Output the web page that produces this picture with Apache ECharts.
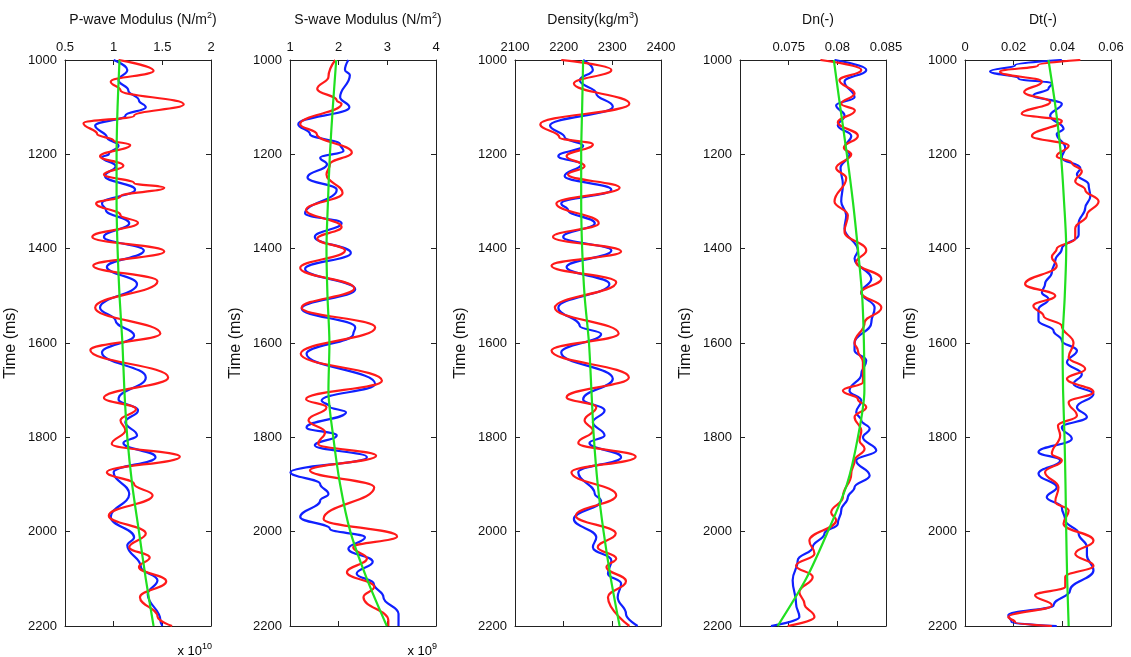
<!DOCTYPE html>
<html>
<head>
<meta charset="utf-8">
<script src="https://cdn.jsdelivr.net/npm/echarts@6/dist/echarts.min.js"></script>
<style>html,body{margin:0;padding:0;background:#fff}#c{width:1131px;height:657px}</style>
</head>
<body>
<div id="c"></div>
<script>
// ---------- DATA (time in ms) ----------
const timeTicks = [1000, 1200, 1400, 1600, 1800, 2000, 2200];

// P-wave modulus (x 1e10)
const pBlueT = [1000,1021,1043,1064,1086,1100,1118,1139,1164,1182,1200,1206,1225,1246,1275,1304,1318,1346,1375,1404,1439,1475,1525,1553,1584,1620,1673,1719,1743,1768,1796,1812,1842,1874,1920,1969,2012,2029,2075,2103,2132,2188,2200];
const pBlueV = [1.00,1.14,1.05,1.15,1.26,1.33,1.12,0.81,0.93,1.05,0.95,0.88,1.02,0.91,1.22,0.88,0.92,1.16,0.90,1.31,0.93,1.24,0.86,1.02,1.21,0.88,1.33,1.05,1.25,1.12,1.24,1.10,1.43,1.00,1.16,0.97,1.21,1.14,1.28,1.45,1.35,1.48,1.50];
const pRedT = [1000,1023,1046,1064,1094,1118,1134,1157,1171,1180,1204,1224,1243,1261,1271,1289,1304,1329,1345,1375,1406,1436,1469,1525,1580,1615,1673,1716,1740,1764,1785,1814,1841,1874,1899,1923,1966,2004,2033,2055,2075,2105,2139,2180,2200];
const pRedV = [1.05,1.41,0.97,1.07,1.72,1.21,0.69,0.83,1.00,1.17,0.86,1.10,0.90,1.21,1.52,1.07,0.82,1.07,1.25,0.78,1.52,0.79,1.45,0.81,1.48,0.76,1.56,0.90,1.23,1.07,1.12,0.98,1.68,0.93,1.21,1.40,0.95,1.33,1.16,1.37,1.26,1.54,1.27,1.45,1.60];
const pGreenT = [1000,1100,1200,1300,1400,1500,1600,1700,1800,1900,2000,2100,2200];
const pGreenV = [1.06,1.04,1.03,1.03,1.04,1.06,1.09,1.11,1.14,1.19,1.26,1.33,1.41];

// S-wave modulus (x 1e9)
const sBlueT = [1000,1021,1032,1079,1100,1136,1157,1179,1193,1207,1221,1249,1275,1325,1346,1375,1409,1443,1486,1527,1567,1581,1623,1687,1722,1735,1747,1779,1796,1817,1842,1874,1899,1920,1934,1969,1994,2012,2036,2064,2089,2110,2139,2174,2200];
const sBlueV = [2.20,2.13,2.23,2.03,2.22,1.17,1.41,2.03,2.10,1.62,1.76,1.36,1.96,1.31,2.06,1.51,2.25,1.31,2.34,1.24,2.34,2.30,1.34,2.75,1.65,1.82,2.15,1.34,1.96,1.51,2.58,1.01,1.62,1.79,1.62,1.21,1.82,2.54,2.20,2.70,2.37,2.72,2.92,3.23,3.23];
const sRedT = [1000,1036,1061,1086,1093,1136,1157,1196,1221,1243,1282,1318,1354,1379,1404,1441,1484,1525,1567,1623,1680,1719,1736,1764,1789,1814,1839,1870,1906,1973,2010,2033,2057,2086,2117,2139,2188,2200];
const sRedV = [1.93,1.79,1.56,1.96,2.06,1.21,1.55,2.27,1.82,1.75,2.08,1.33,2.06,1.56,2.13,1.21,2.32,1.24,2.75,1.22,2.89,1.33,1.75,1.38,1.72,1.58,2.77,1.41,2.73,1.69,3.20,2.30,2.58,2.17,2.73,2.51,3.02,3.02];
const sGreenT = [1000,1100,1200,1300,1400,1500,1600,1700,1800,1900,2000,2100,2200];
const sGreenV = [1.95,1.88,1.82,1.78,1.75,1.77,1.81,1.79,1.89,2.03,2.24,2.58,2.99];

// Density (kg/m3)
const dBlueT = [1000,1021,1043,1071,1099,1139,1164,1182,1204,1221,1246,1275,1304,1318,1346,1375,1404,1439,1475,1525,1564,1581,1620,1676,1719,1743,1768,1796,1812,1842,1874,1920,1934,1973,2012,2033,2061,2089,2110,2139,2174,2200];
const dBlueV = [2240,2260,2233,2267,2301,2172,2202,2240,2189,2236,2202,2298,2195,2209,2264,2199,2298,2206,2294,2189,2233,2277,2195,2301,2240,2284,2260,2284,2253,2318,2230,2264,2277,2221,2267,2260,2298,2291,2318,2311,2328,2352];
const dRedT = [1000,1021,1050,1093,1136,1164,1179,1204,1225,1243,1271,1304,1346,1375,1406,1436,1471,1525,1580,1616,1673,1715,1736,1764,1786,1812,1841,1874,1923,1966,2004,2033,2057,2075,2105,2139,2200];
const dRedV = [2195,2298,2221,2335,2152,2191,2260,2206,2243,2209,2315,2185,2272,2178,2318,2175,2308,2182,2313,2175,2334,2206,2267,2243,2260,2230,2348,2216,2308,2225,2307,2270,2308,2288,2328,2291,2335];
const dGreenT = [1000,1100,1200,1300,1400,1500,1600,1700,1800,1900,2000,2100,2200];
const dGreenV = [2240,2238,2236,2236,2238,2243,2252,2257,2262,2270,2282,2297,2315];

// Dn (-)
const nBlueT = [1000,1021,1046,1079,1096,1118,1139,1161,1186,1200,1229,1264,1300,1329,1357,1404,1421,1464,1493,1525,1557,1600,1616,1637,1666,1701,1722,1747,1764,1782,1800,1828,1849,1881,1906,1927,1955,1983,2004,2033,2061,2103,2153,2181,2200];
const nBlueV = [0.07971,0.08297,0.08074,0.08177,0.07988,0.08074,0.08005,0.08143,0.08074,0.08125,0.08033,0.08057,0.0804,0.08091,0.08074,0.08211,0.08177,0.08349,0.08246,0.08383,0.08349,0.08177,0.08177,0.08297,0.08246,0.08125,0.08246,0.08194,0.08246,0.08332,0.08263,0.084,0.08194,0.08332,0.08177,0.08108,0.0804,0.08005,0.07868,0.07747,0.07593,0.07541,0.07576,0.0761,0.07318];
const nRedT = [1000,1021,1043,1071,1093,1107,1132,1161,1186,1200,1229,1250,1300,1329,1364,1404,1429,1464,1493,1525,1557,1600,1616,1641,1683,1701,1719,1736,1757,1786,1807,1824,1849,1877,1927,1959,1976,2019,2047,2072,2096,2128,2153,2181,2200];
const nRedV = [0.07826,0.08246,0.08022,0.08177,0.0804,0.0818,0.08005,0.08211,0.08067,0.08143,0.07988,0.08091,0.07971,0.08108,0.08074,0.08297,0.08194,0.08452,0.08246,0.08452,0.0828,0.08177,0.08211,0.08263,0.08263,0.08057,0.08211,0.08297,0.08177,0.08246,0.08228,0.0828,0.08177,0.08143,0.08057,0.07936,0.07988,0.07713,0.07765,0.07576,0.07747,0.0761,0.07662,0.07765,0.0749];
const nGreenT = [1000,1100,1200,1300,1400,1500,1600,1700,1800,1900,2000,2100,2200];
const nGreenV = [0.07964,0.0803,0.08098,0.0816,0.08211,0.08255,0.08273,0.08278,0.08211,0.08098,0.07902,0.07679,0.07387];

// Dt (-)
const tBlueT = [1000,1011,1024,1039,1050,1061,1075,1093,1118,1146,1157,1186,1207,1229,1243,1264,1289,1314,1346,1371,1400,1425,1450,1475,1493,1507,1529,1553,1574,1595,1616,1641,1666,1687,1708,1736,1757,1779,1803,1831,1849,1877,1906,1927,1948,1976,2004,2033,2050,2082,2124,2156,2177,2192,2200];
const tBlueV = [0.0398,0.0206,0.0103,0.0220,0.0357,0.0343,0.0281,0.0398,0.0350,0.0405,0.0377,0.0412,0.0398,0.0474,0.0460,0.0508,0.0515,0.0494,0.0467,0.0467,0.0398,0.0371,0.0357,0.0329,0.0316,0.0343,0.0302,0.0302,0.0364,0.0398,0.0460,0.0419,0.0480,0.0446,0.0528,0.0460,0.0501,0.0398,0.0439,0.0302,0.0391,0.0302,0.0377,0.0336,0.0398,0.0412,0.0467,0.0501,0.0501,0.0528,0.0432,0.0364,0.0178,0.0192,0.0377];
const tRedT = [1000,1011,1025,1046,1068,1089,1114,1129,1161,1182,1204,1218,1236,1257,1275,1300,1329,1357,1379,1400,1418,1436,1475,1500,1521,1543,1564,1600,1630,1655,1676,1704,1726,1754,1775,1796,1835,1849,1874,1906,1937,1955,1983,2019,2047,2072,2096,2117,2135,2156,2181,2192,2200];
const tRedV = [0.0474,0.0300,0.0144,0.0316,0.0243,0.0350,0.0233,0.0398,0.0275,0.0426,0.0377,0.0439,0.0480,0.0453,0.0494,0.0549,0.0501,0.0453,0.0453,0.0377,0.0357,0.0377,0.0247,0.0371,0.0281,0.0323,0.0398,0.0446,0.0426,0.0494,0.0419,0.0528,0.0426,0.0460,0.0382,0.0391,0.0357,0.0398,0.0329,0.0384,0.0371,0.0426,0.0405,0.0528,0.0453,0.0528,0.0412,0.0412,0.0288,0.0357,0.0178,0.0206,0.0357];
const tGreenT = [1000,1100,1200,1300,1400,1500,1600,1700,1800,1900,2000,2100,2200];
const tGreenV = [0.0343,0.0372,0.0394,0.0407,0.0416,0.0410,0.0401,0.0403,0.0409,0.0413,0.0416,0.0420,0.0426];

// ---------- CHART ----------
const FONT = "'Liberation Sans', Arial, sans-serif";
const TXT = '#111';
const panels = [
  {title:'{a|P-wave Modulus (N/m}{s|2}{a|)}', min:0.5, max:2, interval:0.5, minLabel:true,
   blue:[pBlueT,pBlueV], red:[pRedT,pRedV], green:[pGreenT,pGreenV], exp:'10'},
  {title:'{a|S-wave Modulus (N/m}{s|2}{a|)}', min:1, max:4, interval:1, minLabel:true,
   blue:[sBlueT,sBlueV], red:[sRedT,sRedV], green:[sGreenT,sGreenV], exp:'9'},
  {title:'{a|Density(kg/m}{s|3}{a|)}', min:2100, max:2400, interval:100, minLabel:true,
   blue:[dBlueT,dBlueV], red:[dRedT,dRedV], green:[dGreenT,dGreenV]},
  {title:'{a|Dn(-)}', min:0.07, max:0.085, interval:0.005, minLabel:false,
   blue:[nBlueT,nBlueV], red:[nRedT,nRedV], green:[nGreenT,nGreenV]},
  {title:'{a|Dt(-)}', min:0, max:0.06, interval:0.02, minLabel:true,
   blue:[tBlueT,tBlueV], red:[tRedT,tRedV], green:[tGreenT,tGreenV]}
];
const lefts = [65, 290, 515, 740, 965];
const W = 146, TOP = 60, H = 566;

const rich = {
  a:{fontFamily:FONT, fontSize:14, color:TXT, lineHeight:18},
  s:{fontFamily:FONT, fontSize:9, color:TXT, verticalAlign:'top', lineHeight:18, padding:[0,0,7,0]}
};
const richX = {
  a:{fontFamily:FONT, fontSize:13, color:TXT, lineHeight:18},
  s:{fontFamily:FONT, fontSize:9, color:TXT, verticalAlign:'top', lineHeight:18, padding:[0,0,7,0]}
};
const fmt = v => String(+(+v).toFixed(6));

const option = {
  animation:false,
  backgroundColor:'#fff',
  title:[], grid:[], xAxis:[], yAxis:[], series:[], graphic:[]
};
const lineCol = '#222';
panels.forEach((p, i) => {
  const L = lefts[i];
  option.grid.push({left:L, top:TOP, width:W, height:H, containLabel:false});
  option.title.push({text:p.title, left:L + W/2, top:6, textAlign:'center',
    textStyle:{rich:rich, fontFamily:FONT, fontSize:14, fontWeight:'normal', color:TXT}});
  const baseX = {type:'value', gridIndex:i, min:p.min, max:p.max, interval:p.interval,
    splitLine:{show:false}, axisLine:{onZero:false, lineStyle:{color:lineCol, width:1}},
    axisTick:{inside:true, length:5, lineStyle:{color:lineCol}}};
  option.xAxis.push(Object.assign({}, baseX, {position:'top',
    axisLabel:{show:true, showMinLabel:p.minLabel, showMaxLabel:true, margin:6, formatter:fmt,
      fontFamily:FONT, fontSize:13, color:TXT}}));
  option.xAxis.push(Object.assign({}, baseX, {position:'bottom', axisLabel:{show:false}}));
  const baseY = {type:'value', gridIndex:i, min:1000, max:2200, interval:200, inverse:true,
    splitLine:{show:false}, axisLine:{onZero:false, lineStyle:{color:lineCol, width:1}},
    axisTick:{inside:true, length:5, lineStyle:{color:lineCol}}};
  option.yAxis.push(Object.assign({}, baseY, {position:'left', name:'Time (ms)', nameLocation:'middle',
    nameRotate:90, nameGap:46, nameTextStyle:{fontFamily:FONT, fontSize:16, color:TXT},
    axisLabel:{show:true, margin:8, formatter:fmt, fontFamily:FONT, fontSize:13, color:TXT}}));
  option.yAxis.push(Object.assign({}, baseY, {position:'right', axisLabel:{show:false}}));
  const mk = (arr, color, name, mono) => {
    const s = {
      type:'line', name:name, xAxisIndex:2*i, yAxisIndex:2*i, showSymbol:false, symbol:'none',
      smooth: mono ? 0.45 : 0.3, lineStyle:{color:color, width:2.2}, itemStyle:{color:color},
      data: arr[0].map((t, k) => [arr[1][k], t])
    };
    if (mono) s.smoothMonotone = 'y';
    return s;
  };
  option.series.push(mk(p.blue, '#1020ff', 'blue', true));
  option.series.push(mk(p.red, '#ff1a1a', 'red', true));
  option.series.push(mk(p.green, '#20e020', 'green', false));
  if (p.exp) {
    option.graphic.push({type:'text', x:L + W + 1, y:651,
      style:{text:'{a|x 10}{s|' + p.exp + '}', rich:richX, align:'right', verticalAlign:'middle'}});
  }
});

const chart = echarts.init(document.getElementById('c'), null, {renderer:'canvas'});
chart.setOption(option);
</script>
</body>
</html>
